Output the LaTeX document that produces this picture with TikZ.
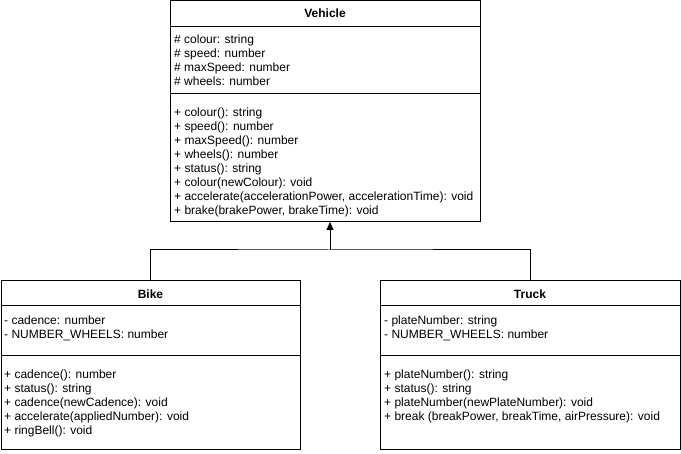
\documentclass[tikz,border=0pt]{standalone}
\usepackage{fontspec}
\setmainfont{Liberation Sans}
\usetikzlibrary{arrows.meta}
\begin{document}
\begin{tikzpicture}[x=1pt,y=-1pt,
  umlbox/.style={draw=black, line width=1pt, rectangle, inner sep=0pt, outer sep=0pt, anchor=north west},
  sep/.style={draw=black, line width=1pt},
  title/.style={anchor=base, inner sep=0pt, font=\fontsize{12}{14}\selectfont\bfseries},
  members/.style={anchor=north west, inner sep=0pt, align=left, font=\fontsize{12}{14}\selectfont},
  conn/.style={draw=black, line width=1pt}]
\useasboundingbox[fill=white] (0,0) rectangle (681,454);

% Vehicle
\node[umlbox, minimum width=310pt, minimum height=221pt] (vehicle) at (170,1) {};
\draw[sep] (vehicle.west |- 0,27) -- (vehicle.east |- 0,27);
\draw[sep] (vehicle.west |- 0,94) -- (vehicle.east |- 0,94);
\node[title] (vtitle) at (325,18) {Vehicle};
\node[members] (vattr) at (174,34) {\strut\# colour: string\\\# speed: number\\\# maxSpeed: number\\\# wheels: number};
\node[members] (vmeth) at (174,106.2) {\strut+ colour(): string\\+ speed(): number\\+ maxSpeed(): number\\+ wheels(): number\\+ status(): string\\+ colour(newColour): void\\+ accelerate(accelerationPower, accelerationTime): void\\+ brake(brakePower, brakeTime): void};

% Bike
\node[umlbox, minimum width=299pt, minimum height=169pt] (bike) at (1,281) {};
\draw[sep] (bike.west |- 0,306) -- (bike.east |- 0,306);
\draw[sep] (bike.west |- 0,356) -- (bike.east |- 0,356);
\node[title] (btitle) at (150.5,299) {Bike};
\node[members] (battr) at (4,315) {\strut- cadence: number\\- NUMBER\_WHEELS: number};
\node[members] (bmeth) at (4,368.2) {\strut+ cadence(): number\\+ status(): string\\+ cadence(newCadence): void\\+ accelerate(appliedNumber): void\\+ ringBell(): void};

% Truck
\node[umlbox, minimum width=300pt, minimum height=169pt] (truck) at (380,281) {};
\draw[sep] (truck.west |- 0,306) -- (truck.east |- 0,306);
\draw[sep] (truck.west |- 0,356) -- (truck.east |- 0,356);
\node[title] (ttitle) at (530,299) {Truck};
\node[members] (tattr) at (384,315) {\strut- plateNumber: string\\- NUMBER\_WHEELS: number};
\node[members] (tmeth) at (384,368.2) {\strut+ plateNumber(): string\\+ status(): string\\+ plateNumber(newPlateNumber): void\\+ break (breakPower, breakTime, airPressure): void};

% connectors
\coordinate (join) at (330,250);
\draw[conn] (bike.north) |- (join) -| (truck.north);
\draw[conn, -{Triangle[length=8pt,width=7pt]}] (join) -- (vehicle.south -| join);
\end{tikzpicture}
\end{document}
